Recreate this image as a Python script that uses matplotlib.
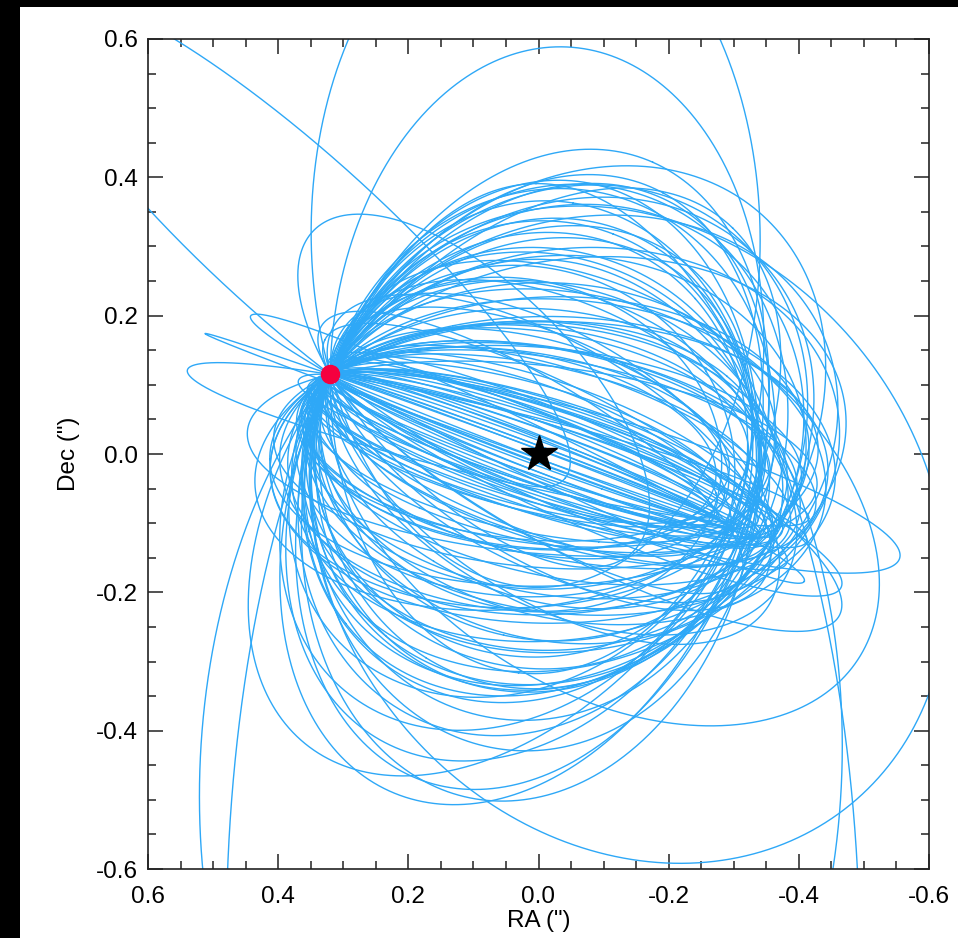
import matplotlib

matplotlib.use("Agg")

import matplotlib.pyplot as plt
import numpy as np
from matplotlib.patches import Rectangle
from matplotlib.ticker import MultipleLocator

# companion astrometry (arcsec, RA offset east positive)
obs_ra = 0.32
obs_dec = 0.115

# orbit samples: eccentricity, inclination (deg), argument of periastron (deg),
# true anomaly at the epoch of the observation (deg)
ecc = [
    # nearly edge-on
    0.03, 0.08, 0.05, 0.10, 0.02, 0.12, 0.06, 0.09, 0.04, 0.11,
    0.07, 0.03, 0.10, 0.05, 0.08, 0.12, 0.06, 0.04, 0.09, 0.07,
    # intermediate inclination
    0.05, 0.08, 0.10, 0.12, 0.07, 0.13, 0.04, 0.15, 0.09, 0.11,
    0.06, 0.14, 0.02, 0.10, 0.12, 0.08, 0.05, 0.03, 0.14, 0.07,
    0.11, 0.04, 0.13, 0.09, 0.06, 0.15, 0.08, 0.10, 0.12, 0.05,
    0.09, 0.07, 0.13, 0.06, 0.11,
    # closer to face-on
    0.10, 0.12, 0.08, 0.12, 0.09, 0.07, 0.11, 0.08, 0.12, 0.07,
    0.10, 0.12, 0.08, 0.12, 0.09, 0.07, 0.11, 0.08, 0.12, 0.07,
    0.06, 0.10, 0.04, 0.08, 0.02,
    # long loops west / east of the star
    0.22, 0.18, 0.17,
    0.13, 0.30, 0.04, 0.40,
    # wide solutions
    0.90, 0.30, 0.62, 0.62, 0.65, 0.35, 0.25, 0.05,
]
inc = [
    86, 82, 88, 80, 84, 79, 87, 81, 83, 85,
    78, 89, 82, 80, 86, 84, 79, 88, 83, 81,
    72, 65, 58, 68, 60, 75, 55, 62, 70, 57,
    77, 66, 63, 71, 52, 69, 54, 67, 74, 63,
    59, 76, 53, 67, 72, 64, 50, 61, 56, 73,
    60, 65, 58, 70, 55,
    30, 40, 25, 45, 35, 20, 50, 30, 38, 42,
    30, 40, 25, 45, 35, 20, 50, 30, 38, 42,
    45, 40, 35, 30, 28,
    80, 80, 75,
    84, 89, 85.5, 60,
    58, 40, 30, 32, 55, 25, 50, 45,
]
argp = [
    10, 200, 90, 300, 40, 150, 250, 20, 330, 100,
    180, 60, 270, 0, 120, 220, 340, 170, 50, 290,
    15, 40, 100, 300, 60, 170, 20, 250, 330, 140,
    80, 210, 0, 120, 280, 10, 190, 95, 230, 320,
    70, 160, 350, 260, 110, 185, 290, 220, 0, 130,
    20, 300, 150, 250, 330,
    0, 0, 0, 0, 0, 0, 0, 0, 0, 0,
    0, 0, 0, 0, 0, 0, 0, 0, 0, 0,
    30, 200, 270, 140, 90,
    0, 0, 0,
    0, 0, 0, 0,
    0, 0, 0, 0, 0, 0, 0, 0,
]
nu_obs = [
    -5, -195, -80, 75, -30, -140, 120, -35, 50, -110,
    -160, -60, 110, 5, -130, 155, 35, -165, -25, 65,
    -10, -20, -70, 85, -40, -150, 15, 140, 40, -105,
    -65, -180, 40, -115, 110, 15, -160, -60, 150, 30,
    -35, -140, 25, 130, -70, -160, 75, 155, 25, -160,
    -40, 40, -110, 135, 20,
    60, 45, 70, 35, 55, 80, 40, 50, 65, 30,
    -100, -85, -115, -95, -120, -90, -105, -80, -110, -100,
    -20, -190, 100, -130, -75,
    25, -15, -25,
    -130, -135, 135, 140,
    145, 101, 108, -76, -78, -22, -15, -92,
]

line_color = "#2ea8f7"


def sky_track(e, i_deg, w_deg, nu_deg, n=1200):
    i = np.radians(i_deg)
    w = np.radians(w_deg)
    nu0 = np.radians(nu_deg)
    ecc_anom = np.linspace(0, 2 * np.pi, n)
    xo = np.cos(ecc_anom) - e
    yo = np.sqrt(1 - e**2) * np.sin(ecc_anom)
    z = (xo * np.cos(w) - yo * np.sin(w)) + 1j * (xo * np.sin(w) + yo * np.cos(w)) * np.cos(i)
    r0 = (1 - e**2) / (1 + e * np.cos(nu0))
    z0 = r0 * np.cos(w + nu0) + 1j * r0 * np.sin(w + nu0) * np.cos(i)
    # rotate (Omega) and scale (a) so the orbit passes through the measured position
    z = z * (complex(obs_ra, obs_dec) / z0)
    return z.real, z.imag


plt.rcParams["font.family"] = ["Liberation Sans", "DejaVu Sans"]

fig = plt.figure(figsize=(9.58, 9.38), dpi=100, facecolor="black")
fig.patches.append(Rectangle((20 / 958, 0), 1 - 20 / 958, 931 / 938,
                             transform=fig.transFigure, facecolor="white",
                             edgecolor="none", zorder=-5))
ax = fig.add_axes([148 / 958, 69 / 938, 781 / 958, 830 / 938])

for e, i_deg, w_deg, nu_deg in zip(ecc, inc, argp, nu_obs):
    ra, dec = sky_track(e, i_deg, w_deg, nu_deg)
    ax.plot(ra, dec, color=line_color, lw=1.0, zorder=2)

ax.plot([0], [0], marker="*", ms=27, color="black", linestyle="none", zorder=4)
ax.plot([obs_ra], [obs_dec], marker="o", ms=13, color="#f5003f", linestyle="none", zorder=5)

ax.set_xlim(0.6, -0.6)
ax.set_ylim(-0.6, 0.6)
ax.xaxis.set_major_locator(MultipleLocator(0.2))
ax.xaxis.set_minor_locator(MultipleLocator(0.05))
ax.yaxis.set_major_locator(MultipleLocator(0.2))
ax.yaxis.set_minor_locator(MultipleLocator(0.05))
ax.xaxis.set_major_formatter(plt.FuncFormatter(lambda v, p: f"{v:.1f}".replace("-0.0", "0.0")))
ax.yaxis.set_major_formatter(plt.FuncFormatter(lambda v, p: f"{v:.1f}".replace("-0.0", "0.0")))
ax.tick_params(which="both", direction="in", top=True, right=True, width=1.1, colors="#222222")
ax.tick_params(which="major", length=11, labelsize=17.5, labelcolor="black")
ax.tick_params(which="minor", length=6)
ax.tick_params(axis="x", which="major", pad=12)
ax.tick_params(axis="y", which="major", pad=7)
for spine in ax.spines.values():
    spine.set_linewidth(1.2)
    spine.set_color("#222222")

ax.set_xlabel('RA (")', fontsize=17.5, labelpad=2)
ax.set_ylabel('Dec (")', fontsize=17.5, labelpad=12)

fig.savefig("out.png", dpi=100, facecolor=fig.get_facecolor())
